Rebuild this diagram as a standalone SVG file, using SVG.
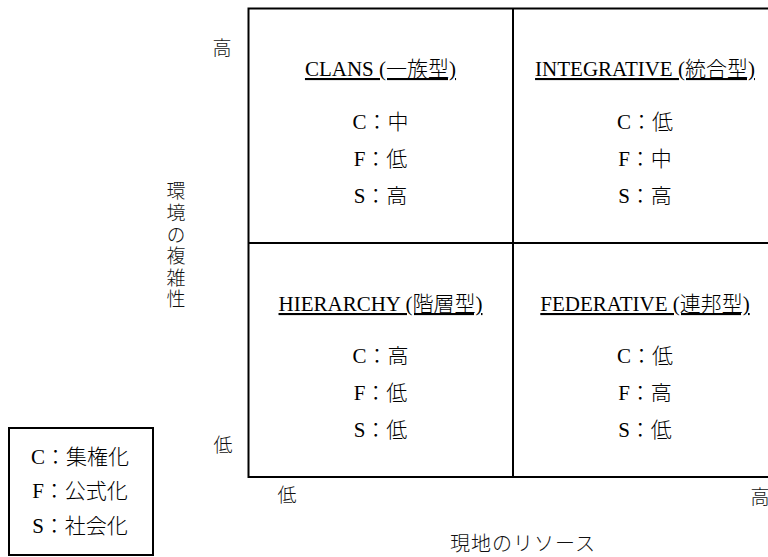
<svg xmlns="http://www.w3.org/2000/svg" width="768" height="557" viewBox="0 0 768 557">
<style>
.serif{font-family:"Liberation Serif","Noto Sans CJK JP",serif;font-size:21px;fill:#000;text-anchor:middle;font-weight:300}
.sans{font-family:"Noto Sans CJK JP",sans-serif;font-size:19px;fill:#111;text-anchor:middle;font-weight:300}
.title{text-decoration:underline}
.ln{stroke:#000;stroke-width:2;fill:none}
</style>
<rect width="768" height="557" fill="#fff"/>
<g id="grid">
<rect class="ln" x="248.5" y="8.5" width="529" height="468.5"/>
<line class="ln" x1="513" y1="8" x2="513" y2="477"/>
<line class="ln" x1="248" y1="243" x2="778" y2="243"/>
</g>
<g id="clans">
<text class="serif title" x="380.5" y="76">CLANS (一族型)</text>
<text class="serif" x="380.5" y="129">C：中</text>
<text class="serif" x="380.5" y="166">F：低</text>
<text class="serif" x="380.5" y="203">S：高</text>
</g>
<g id="integrative">
<text class="serif title" x="645" y="76">INTEGRATIVE (統合型)</text>
<text class="serif" x="645" y="129">C：低</text>
<text class="serif" x="645" y="166">F：中</text>
<text class="serif" x="645" y="203">S：高</text>
</g>
<g id="hierarchy">
<text class="serif title" x="380.5" y="311">HIERARCHY (階層型)</text>
<text class="serif" x="380.5" y="363">C：高</text>
<text class="serif" x="380.5" y="400">F：低</text>
<text class="serif" x="380.5" y="437">S：低</text>
</g>
<g id="federative">
<text class="serif title" x="645" y="311">FEDERATIVE (連邦型)</text>
<text class="serif" x="645" y="363">C：低</text>
<text class="serif" x="645" y="400">F：高</text>
<text class="serif" x="645" y="437">S：低</text>
</g>
<g id="axis-y">
<text class="sans" x="222" y="55">高</text>
<text class="sans" x="223" y="452">低</text>
<text class="sans" x="176" y="246.5" style="writing-mode:vertical-rl;letter-spacing:2.6px">環境の複雑性</text>
</g>
<g id="axis-x">
<text class="sans" x="287" y="502">低</text>
<text class="sans" x="760" y="504">高</text>
<text class="sans" x="523" y="551" style="font-size:20px;letter-spacing:1px">現地のリソース</text>
</g>
<g id="legend">
<rect class="ln" x="9" y="428" width="144" height="127" stroke-width="1.5"/>
<text class="serif" x="80" y="464">C：集権化</text>
<text class="serif" x="80" y="498">F：公式化</text>
<text class="serif" x="80" y="533">S：社会化</text>
</g>
</svg>
